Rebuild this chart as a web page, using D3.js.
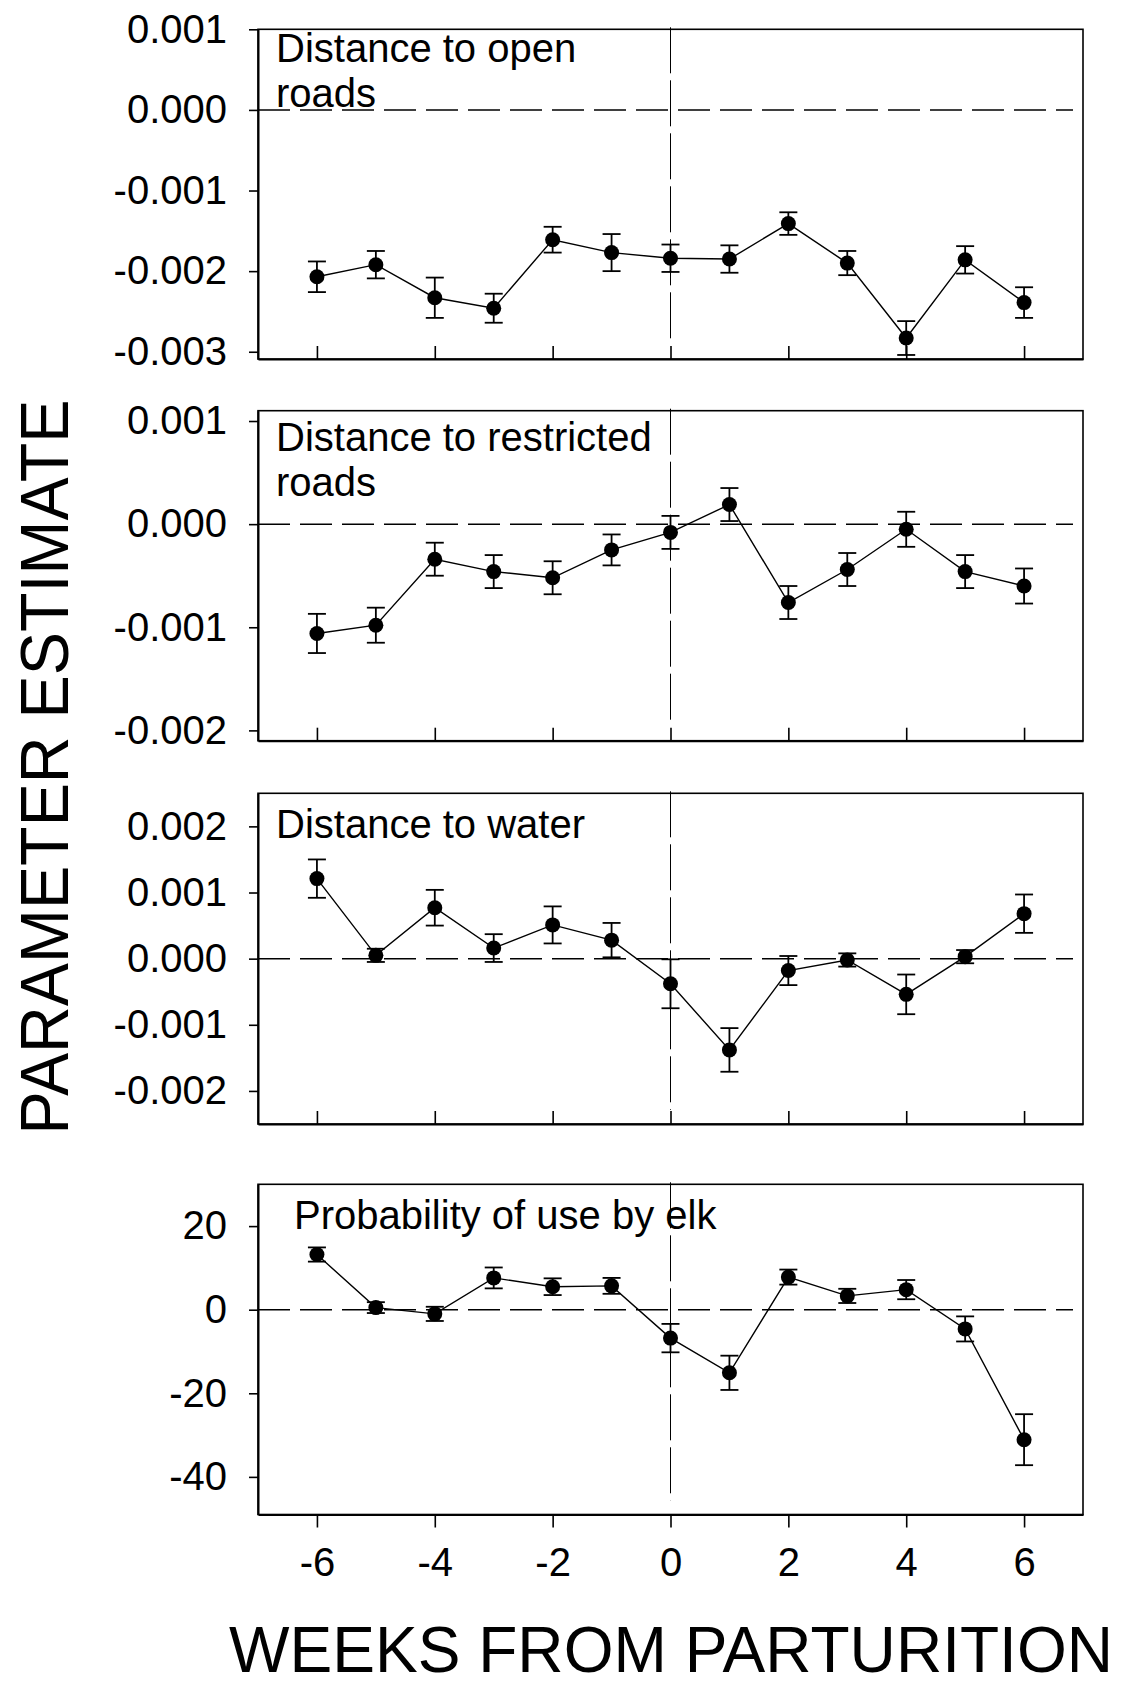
<!DOCTYPE html>
<html>
<head>
<meta charset="UTF-8" />
<title>Parameter estimate</title>
<script src="https://cdn.jsdelivr.net/npm/d3@7"></script>
<style>
body{margin:0;background:#fff;}
text{font-family:"Liberation Sans",Arial,sans-serif;fill:#000;}
</style>
</head>
<body>
<div id="chart"></div>
<script type="text/javascript">

var w=1123,h=1686;

//data
var weeks=[-6,-5,-4,-3,-2,-1,0,1,2,3,4,5,6];

var openRoads=[-0.00207,-0.00192,-0.00233,-0.00246,-0.00161,-0.00177,-0.00184,-0.00185,-0.00141,-0.00190,-0.00283,-0.00186,-0.00239];
var openRoadsSE=[0.00019,0.00017,0.00025,0.00018,0.00016,0.00023,0.00017,0.00017,0.00014,0.00015,0.00021,0.00017,0.00019];

var restrictedRoads=[-0.00106,-0.00098,-0.00034,-0.00046,-0.00052,-0.00025,-0.00008,0.00019,-0.00076,-0.00044,-0.00005,-0.00046,-0.00060];
var restrictedRoadsSE=[0.00019,0.00017,0.00016,0.00016,0.00016,0.00015,0.00016,0.00016,0.00016,0.00016,0.00017,0.00016,0.00017];

var water=[0.00121,0.00005,0.00077,0.00016,0.00051,0.00028,-0.00038,-0.00138,-0.00018,-0.00002,-0.00054,0.00003,0.00068];
var waterSE=[0.00029,0.00010,0.00027,0.00021,0.00028,0.00026,0.00037,0.00033,0.00022,0.00010,0.00030,0.00010,0.00029];

var elkUse=[13.2,0.5,-1.0,7.6,5.5,5.7,-6.8,-15.1,7.8,3.3,4.8,-4.6,-31.1];
var elkUseSE=[1.7,1.3,1.7,2.5,2.0,1.9,3.4,4.1,1.8,1.7,2.3,3.0,6.1];

//tick values
var xTicks=[-6,-4,-2,0,2,4,6];
var openTicks=[0.001,0,-0.001,-0.002,-0.003];
var restrictedTicks=[0.001,0,-0.001,-0.002];
var waterTicks=[0.002,0.001,0,-0.001,-0.002];
var elkTicks=[20,0,-20,-40];

//axis ranges
var xDomain=[-7,7];
var openDomain=[-0.00309,0.001];
var restrictedDomain=[-0.0021,0.0011];
var waterDomain=[-0.0025,0.0025];
var elkDomain=[-49,30];

var panels=[
  {title:['Distance to open','roads'],vals:openRoads,se:openRoadsSE,ticks:openTicks,domain:openDomain,fmt:d3.format('.3f'),
   top:29.3,bottom:359,tx:276,ty:62,lastAxis:false},
  {title:['Distance to restricted','roads'],vals:restrictedRoads,se:restrictedRoadsSE,ticks:restrictedTicks,domain:restrictedDomain,fmt:d3.format('.3f'),
   top:410.7,bottom:740.7,tx:276,ty:451,lastAxis:false},
  {title:['Distance to water'],vals:water,se:waterSE,ticks:waterTicks,domain:waterDomain,fmt:d3.format('.3f'),
   top:793.3,bottom:1124,tx:276,ty:838,lastAxis:false},
  {title:['Probability of use by elk'],vals:elkUse,se:elkUseSE,ticks:elkTicks,domain:elkDomain,fmt:d3.format('d'),
   top:1184.3,bottom:1514.5,tx:294,ty:1229,lastAxis:true}
];

var left=258,right=1083;
var x=d3.scaleLinear().domain(xDomain).range([left,right]);

var svg=d3.select('#chart').append('svg')
  .attr('width',w)
  .attr('height',h);

function fmtMinus(f){
  return function(d){return f(d).replace('\u2212','-');};
}

panels.forEach(function(p){
  var y=d3.scaleLinear().domain(p.domain).range([p.bottom,p.top]);
  var g=svg.append('g');

  //框
  g.append('rect')
    .attr('x',left).attr('y',p.top)
    .attr('width',right-left).attr('height',p.bottom-p.top)
    .attr('fill','none').attr('stroke','#000').attr('stroke-width',1.6);

  //y軸
  var yAxis=d3.axisLeft(y).tickValues(p.ticks).tickSizeInner(9).tickSizeOuter(0).tickFormat(fmtMinus(p.fmt));
  var ya=g.append('g').attr('transform','translate('+left+',0)').call(yAxis);
  ya.select('.domain').attr('stroke-width',2);
  ya.selectAll('.tick line').attr('stroke-width',1.6);
  ya.selectAll('.tick text')
    .attr('x',-31)
    .attr('font-size',40)
    .attr('font-family','"Liberation Sans",Arial,sans-serif')
    .attr('fill','#000');

  //x軸
  var xAxis=d3.axisBottom(x).tickValues(xTicks).tickSizeInner(p.lastAxis?13:-13).tickSizeOuter(0);
  var xa=g.append('g').attr('transform','translate(0,'+p.bottom+')').call(xAxis);
  xa.select('.domain').attr('stroke-width',2);
  xa.selectAll('.tick line').attr('stroke-width',1.6);
  if(p.lastAxis){
    xa.selectAll('.tick text')
      .attr('y',33)
      .attr('dy',null)
      .attr('dominant-baseline','hanging')
      .attr('font-size',40)
      .attr('font-family','"Liberation Sans",Arial,sans-serif')
      .attr('fill','#000')
      .text(function(d){return String(d);});
  }else{
    xa.selectAll('.tick text').remove();
  }

  //零線
  g.append('line')
    .attr('x1',left).attr('x2',right-10)
    .attr('y1',y(0)).attr('y2',y(0))
    .attr('stroke','#000').attr('stroke-width',1.5)
    .attr('stroke-dasharray','32,10');

  //第0週
  g.append('line')
    .attr('x1',x(0)).attr('x2',x(0))
    .attr('y1',p.top-2).attr('y2',p.bottom-14)
    .attr('stroke','#000').attr('stroke-width',1)
    .attr('stroke-dasharray','46,7');

  //標題
  var t=g.append('text')
    .attr('x',p.tx).attr('y',p.ty)
    .attr('font-size',40);
  p.title.forEach(function(s,i){
    t.append('tspan').attr('x',p.tx).attr('dy',i==0?0:45).text(s);
  });

  //誤差線
  var eb=g.selectAll('.eb').data(weeks).enter().append('g');
  eb.append('line')
    .attr('x1',function(d){return x(d);}).attr('x2',function(d){return x(d);})
    .attr('y1',function(d,i){return y(p.vals[i]+p.se[i]);})
    .attr('y2',function(d,i){return y(p.vals[i]-p.se[i]);})
    .attr('stroke','#000').attr('stroke-width',1.8);
  [1,-1].forEach(function(sg){
    eb.append('line')
      .attr('x1',function(d){return x(d)-9;}).attr('x2',function(d){return x(d)+9;})
      .attr('y1',function(d,i){return y(p.vals[i]+sg*p.se[i]);})
      .attr('y2',function(d,i){return y(p.vals[i]+sg*p.se[i]);})
      .attr('stroke','#000').attr('stroke-width',1.8);
  });

  //連線
  var line=d3.line()
    .x(function(d){return x(d);})
    .y(function(d,i){return y(p.vals[i]);});
  g.append('path')
    .datum(weeks)
    .attr('d',line)
    .attr('fill','none').attr('stroke','#000').attr('stroke-width',1.4);

  //點
  g.selectAll('.pt').data(weeks).enter().append('circle')
    .attr('cx',function(d){return x(d);})
    .attr('cy',function(d,i){return y(p.vals[i]);})
    .attr('r',7.5)
    .attr('fill','#000');
});

//軸標題
svg.append('text')
  .attr('transform','translate(68,767) rotate(-90)')
  .attr('text-anchor','middle')
  .attr('font-size',68)
  .attr('textLength',735)
  .attr('lengthAdjust','spacingAndGlyphs')
  .text('PARAMETER ESTIMATE');

svg.append('text')
  .attr('x',229).attr('y',1672)
  .attr('font-size',64)
  .attr('textLength',884)
  .attr('lengthAdjust','spacingAndGlyphs')
  .text('WEEKS FROM PARTURITION');

</script>
</body>
</html>
